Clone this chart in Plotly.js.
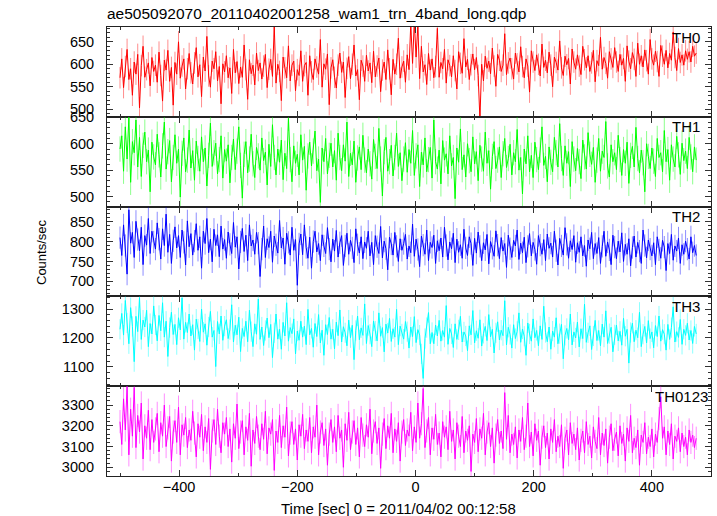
<!DOCTYPE html>
<html>
<head>
<meta charset="utf-8">
<script src="https://cdn.plot.ly/plotly-3.0.1.min.js"></script>
<style>html,body{margin:0;padding:0;background:#fff;}#chart{width:717px;height:516px;}</style>
</head>
<body>
<div id="chart"></div>
<script>
// Time bins (sec, relative to 2011/04/02 00:12:58)
const tStart = -500;
const tStep = 3;

const th0 = [
570,612,548,595,633,566,590,531,605,578,622,503,597,640,571,588,603,552,615,584,
598,560,627,575,518,609,587,631,562,593,509,604,578,650,569,596,612,545,590,624,
581,556,603,637,572,599,528,616,585,662,574,549,607,590,628,563,595,512,601,583,
619,570,592,535,633,581,606,557,594,571,643,588,522,610,579,598,554,625,586,603,
567,596,622,548,589,611,573,685,558,600,584,519,616,592,570,641,563,598,607,541,
588,575,630,562,597,604,531,619,583,566,612,594,578,655,549,601,589,623,510,592,
610,571,547,598,625,582,605,526,591,617,568,600,643,574,588,521,609,596,562,620,
585,603,559,629,572,596,614,539,587,605,566,632,590,532,611,578,600,658,569,594,
607,560,621,588,690,602,695,616,688,568,640,583,599,555,624,587,612,570,595,680,
571,604,590,633,558,610,597,572,619,586,545,628,602,580,657,594,611,566,599,623,
588,615,575,478,600,563,618,591,607,579,636,596,551,622,609,584,598,668,577,603,
614,590,567,625,601,583,639,595,570,612,596,538,630,605,586,621,600,574,645,593,
609,581,627,598,550,616,604,587,652,592,575,618,599,613,556,634,605,589,621,596,
577,640,610,592,619,584,603,631,561,608,597,660,589,615,602,569,628,612,593,637,
605,584,622,598,613,562,641,607,590,626,611,573,647,600,619,594,632,608,578,655,
612,598,629,606,573,642,618,600,631,592,624,609,672,615,586,635,604,621,598,630,
611,628,605,640,618,625];

const th1 = [
590,615,548,632,571,650,527,604,583,645,556,612,538,597,622,566,588,509,603,575,
560,618,579,537,596,641,552,585,606,528,574,617,563,590,499,582,611,547,569,626,
554,587,531,605,572,548,613,566,592,520,578,639,557,583,601,543,570,615,535,589,
567,598,526,574,609,551,586,632,559,497,580,604,545,571,618,562,536,593,577,550,
611,568,584,522,599,557,636,574,541,590,565,607,532,582,553,648,570,528,596,563,
580,541,617,569,595,512,577,603,558,586,624,549,571,489,592,566,610,543,578,601,
556,587,531,620,574,549,598,567,641,538,582,560,605,527,573,594,551,616,569,545,
590,562,533,608,576,553,629,571,501,585,612,548,566,597,539,574,620,557,583,530,
571,602,546,589,563,625,540,577,598,519,584,560,611,547,570,593,535,645,566,552,
588,524,606,569,581,543,615,558,574,496,592,565,628,551,579,537,600,568,547,613,
562,585,530,597,571,548,622,563,587,514,576,604,553,569,594,536,581,610,555,572,
599,541,583,566,627,550,574,505,590,562,615,547,578,536,603,570,551,588,632,559,
576,528,594,565,547,612,583,556,638,572,540,596,563,585,519,604,571,549,591,566,
534,607,575,552,621,580,561,593,527,569,610,548,586,574,642,558,537,598,566,583,
551,616,570,540,589,563,603,525,578,595,556,631,572,545,588,564,509,600,576,553,
592,567,538,610,574,583,547,625,566,589,531,598,571,556,614,579,542,601,568,586,
553,612,575,547,594,569];

const th2 = [
810,765,842,790,718,880,796,823,760,851,805,777,836,742,815,791,858,770,826,799,
781,847,806,756,832,790,869,773,818,745,802,837,784,815,760,829,798,741,852,787,
820,766,801,845,778,812,733,826,795,858,772,806,749,831,790,817,762,839,781,805,
758,824,793,770,848,786,812,731,799,833,775,816,752,842,789,804,768,823,796,712,
781,839,760,807,785,826,748,814,792,771,853,784,809,743,821,798,766,836,778,805,
690,794,819,767,842,785,758,811,733,800,826,774,795,752,817,789,770,835,781,749,
806,776,828,761,797,815,740,789,821,768,803,784,747,832,792,771,812,757,799,783,
826,764,798,742,815,787,770,838,759,801,782,729,811,794,766,823,788,750,807,778,
795,818,756,789,772,844,763,806,780,737,814,791,768,829,752,798,785,816,745,802,
777,809,761,836,790,754,799,782,821,747,806,773,792,758,831,784,765,812,795,740,
808,771,824,788,752,797,779,818,744,800,783,763,827,791,757,810,776,795,735,816,
782,760,803,789,829,755,796,772,811,747,788,820,764,798,780,743,815,791,768,805,
752,819,783,796,761,826,777,741,808,789,766,835,793,758,802,780,815,748,797,773,
812,764,790,738,804,782,823,757,795,770,810,745,788,826,763,799,779,742,816,786,
757,801,774,822,750,793,768,807,739,785,814,761,798,776,745,829,790,759,804,781,
764,797,742,812,779,758,803,786,727,795,770,818,753,789,776,809,745,792,768,801,
781,756,812,772,790,765];

const th3 = [
1230,1285,1210,1330,1252,1180,1305,1240,1118,1275,1222,1340,1195,1262,1238,1296,1170,1250,1214,1311,
1245,1190,1278,1225,1322,1203,1258,1136,1236,1289,1212,1247,1177,1270,1228,1339,1196,1254,1219,1283,
1207,1246,1158,1265,1231,1188,1300,1220,1249,1175,1238,1292,1203,1226,1101,1257,1214,1276,1192,1241,
1263,1198,1229,1315,1186,1244,1211,1272,1153,1233,1205,1258,1187,1296,1222,1170,1249,1213,1335,1195,
1238,1174,1226,1269,1201,1247,1132,1218,1283,1196,1230,1161,1254,1207,1322,1189,1236,1215,1266,1145,
1224,1192,1258,1203,1241,1177,1299,1211,1233,1168,1250,1205,1281,1183,1227,1140,1246,1212,1271,1196,
1230,1162,1255,1208,1297,1186,1239,1218,1173,1262,1201,1244,1125,1226,1276,1194,1235,1209,1318,1181,
1243,1213,1170,1259,1224,1190,1287,1206,1236,1152,1248,1217,1268,1188,1232,1203,1299,1177,1241,1214,
1196,1257,1222,1165,1238,1205,1274,1184,1229,1210,1145,1060,1198,1236,1288,1180,1219,1180,1245,1207,
1261,1189,1226,1203,1312,1178,1233,1214,1167,1249,1195,1228,1275,1186,1221,1207,1156,1242,1211,1295,
1183,1225,1199,1263,1172,1216,1240,1191,1281,1204,1230,1148,1218,1256,1193,1227,1208,1329,1176,1237,
1212,1165,1246,1198,1223,1287,1185,1231,1206,1140,1252,1214,1189,1266,1201,1226,1173,1242,1195,1310,
1219,1187,1238,1161,1224,1203,1270,1180,1215,1247,1128,1209,1233,1194,1283,1176,1221,1200,1255,1169,
1232,1198,1317,1185,1218,1242,1160,1207,1261,1191,1226,1173,1248,1203,1294,1181,1215,1237,1152,1211,
1245,1190,1223,1175,1268,1206,1230,1113,1219,1251,1187,1227,1201,1289,1170,1213,1240,1183,1260,1198,
1221,1166,1243,1205,1276,1189,1229,1213,1158,1247,1195,1236,1308,1186,1222,1202,1264,1178,1230,1209,
1251,1193,1226,1181,1240,1214];

const th0123 = [
3220,3110,3330,3180,3390,3060,3280,3150,3385,3095,3250,3170,3310,3040,3200,3140,3275,3085,3230,3120,
3185,3260,3075,3215,3150,3300,3100,3190,3245,3030,3170,3225,3120,3290,3060,3205,3155,3240,3095,3180,
3130,3270,3165,3050,3210,3145,3255,3080,3195,3120,3235,2990,3175,3230,3110,3280,3150,3070,3215,3160,
3240,3100,3185,3025,3210,3140,3305,3090,3170,3225,3060,3195,3130,3260,3005,3180,3115,3245,3150,3085,
3210,3135,3270,3065,3190,3160,3230,2985,3175,3120,3250,3095,3200,3145,3290,3055,3165,3220,3110,3185,
3035,3205,3150,3255,3090,3180,3125,3240,3070,3195,3145,3300,3060,3170,3215,3105,3185,3010,3160,3230,
3120,3195,3075,3250,3140,3180,3000,3210,3130,3265,3085,3170,3225,3110,3190,3050,3240,3155,3100,3205,
3145,3280,3065,3175,3220,3115,3190,2995,3160,3235,3090,3200,3140,3260,3070,3185,3125,3215,3030,3170,
3230,3105,3180,3150,3265,3080,3195,3120,3310,3140,3210,3380,3095,3175,3240,3060,3190,3135,3255,3110,
3165,3050,3220,3145,3195,3085,3270,3125,3180,3040,3215,3150,3100,3245,3070,3175,3130,3200,2980,3160,
3120,3235,3075,3185,3140,3260,3060,3170,3215,3100,3190,3020,3155,3230,3115,3175,3090,3360,3135,3250,
3070,3160,3110,3195,3045,3180,3125,3240,3085,3150,3310,3100,3170,3055,3210,3130,3175,3010,3145,3200,
3095,3165,3040,3185,3120,3230,3075,3150,3100,3205,2995,3140,3180,3060,3215,3115,3160,3085,3190,3035,
3130,3175,3070,3220,3110,3150,3045,3195,3125,3090,3240,3060,3165,3105,3185,3020,3145,3210,3080,3135,
3170,3055,3200,3115,3160,3030,3190,3125,3250,3070,3140,3095,3180,3010,3155,3120,3215,3065,3145,3100,
3185,3050,3160,3120,3235,3340,3140,3195,3060,3175,3110,3210,3040,3150,3125,3190,3075,3165,3100,3145,
3060,3180,3120,3155,3095,3140];

// estimated half-length of the (light) error bars, counts/sec
const bandErrors = [24, 24, 28, 35, 56];

const bandNames = ["TH0", "TH1", "TH2", "TH3", "TH0123"];
const bandValues = [th0, th1, th2, th3, th0123];
const bandColors = ["#ff0000", "#00ff00", "#0000ff", "#00ffff", "#ff00ff"];
const bandLight = ["rgba(255,0,0,0.45)", "rgba(0,255,0,0.45)", "rgba(0,0,255,0.45)", "rgba(0,255,255,0.45)", "rgba(255,0,255,0.45)"];
const yRanges = [[483, 683], [481, 651], [662, 888], [1033, 1344], [2958, 3391]];
const yMajor = [50, 50, 50, 100, 100];
const yMinor = [10, 10, 10, 20, 20];
const labelRight = [0.985, 0.985, 0.985, 0.985, 0.998];
const xRange = [-522, 500];

const FONT = "Liberation Sans, Arial, Helvetica, sans-serif";
const traces = [];
const layout = {
  width: 717, height: 516,
  margin: {l: 107, r: 6, t: 27, b: 40, pad: 0},
  paper_bgcolor: "#ffffff", plot_bgcolor: "#ffffff",
  showlegend: false,
  font: {family: FONT, size: 14.5, color: "#000"},
  title: {text: "ae505092070_20110402001258_wam1_trn_4band_long.qdp",
          x: 107/717, xanchor: "left", y: 1 - 14/516, yanchor: "middle",
          font: {family: FONT, size: 15.5, color: "#000"}},
  annotations: []
};

const n = bandNames.length;
const h = 1 / n;
bandNames.forEach((name, k) => {
  const vals = bandValues[k];
  const xs = vals.map((_, i) => tStart + i * tStep);
  const sfx = k === 0 ? "" : String(k + 1);
  traces.push({x: xs, y: vals, type: "scatter", mode: "lines", xaxis: "x" + sfx, yaxis: "y" + sfx,
    line: {color: bandColors[k], width: 1}, name: name,
    error_y: {type: "constant", value: bandErrors[k], color: bandLight[k], thickness: 1, width: 0}});
  const top = 1 - k * h, bot = 1 - (k + 1) * h;
  layout["xaxis" + sfx] = {
    domain: [0, 1], anchor: "y" + sfx, range: xRange, matches: k === 0 ? undefined : "x",
    showline: true, linecolor: "#222", linewidth: 1, mirror: "allticks",
    ticks: "inside", ticklen: 6, tickwidth: 1, tickcolor: "#333",
    tick0: 0, dtick: 200, showgrid: false, zeroline: false,
    showticklabels: k === n - 1, ticklabelstandoff: -2,
    tickfont: {family: FONT, size: 14.5, color: "#000"},
    minor: {dtick: 100, ticks: "inside", ticklen: 3, tickcolor: "#333", showgrid: false}
  };
  layout["yaxis" + sfx] = {
    domain: [bot, top], anchor: "x" + sfx, range: yRanges[k],
    showline: true, linecolor: "#222", linewidth: 1, mirror: "allticks",
    ticks: "inside", ticklen: 6, tickwidth: 1, tickcolor: "#333",
    tick0: 0, dtick: yMajor[k], showgrid: false, zeroline: false,
    ticklabelstandoff: 9,
    tickfont: {family: FONT, size: 14.5, color: "#000"},
    minor: {dtick: yMinor[k], ticks: "inside", ticklen: 3, tickcolor: "#333", showgrid: false}
  };
  layout.annotations.push({text: name, xref: "paper", yref: "paper", x: labelRight[k], xanchor: "right",
    y: top - 10/449, yanchor: "middle", showarrow: false, font: {family: FONT, size: 15, color: "#000"}});
});

layout.annotations.push({text: "Counts/sec", xref: "paper", yref: "paper", x: (41 - 107)/604, y: (476 - 252)/449,
  xanchor: "center", yanchor: "middle", textangle: -90, showarrow: false, font: {family: FONT, size: 13, color: "#000"}});
layout.annotations.push({text: "Time [sec] 0 = 2011/04/02 00:12:58", xref: "paper", yref: "paper", x: (398 - 107)/604, y: (476 - 508)/449,
  xanchor: "center", yanchor: "middle", showarrow: false, font: {family: FONT, size: 15, color: "#000"}});

Plotly.newPlot("chart", traces, layout, {displayModeBar: false, staticPlot: true});
</script>
</body>
</html>
